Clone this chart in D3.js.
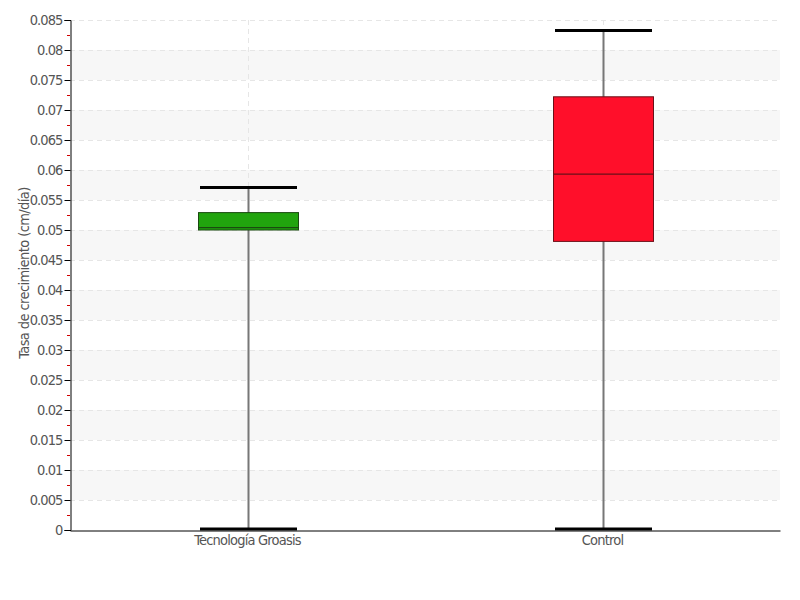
<!DOCTYPE html>
<html><head><meta charset="utf-8">
<script src="https://cdn.jsdelivr.net/npm/d3@7"></script>
<style>body{margin:0;background:#fff}svg{display:block}
text{font-family:'DejaVu Sans',sans-serif;font-stretch:condensed;}</style>
</head><body>
<svg id="c" width="800" height="600"></svg>
<script>
const categories = ["Tecnología Groasis", "Control"];
const whiskerLow = [0, 0];
const q1 = [0.0500, 0.0481];
const medians = [0.0504, 0.0593];
const q3 = [0.0529, 0.0722];
const whiskerHigh = [0.0569, 0.0831];
const colors = ["#21a40e", "#ff0f2a"];
const strokeColors = ["#1a4a10", "#6a1018"];
const yTicks = [0,0.005,0.01,0.015,0.02,0.025,0.03,0.035,0.04,0.045,0.05,0.055,0.06,0.065,0.07,0.075,0.08,0.085];
const yLabels = ["0","0.005","0.01","0.015","0.02","0.025","0.03","0.035","0.04","0.045","0.05","0.055","0.06","0.065","0.07","0.075","0.08","0.085"];
const yTitle = "Tasa de crecimiento (cm/día)";

const svg = d3.select("#c");
const L = 70, R = 780, T = 20, B = 530;
const y = d3.scaleLinear().domain([0, 0.085]).range([B, T]);
const x = d3.scaleBand().domain(categories).range([L, R]);

const g = svg.append("g");
for (let i = 0; i < yTicks.length - 1; i++) {
  if (i % 2 === 1) {
    g.append("rect").attr("x", L).attr("width", R - L)
      .attr("y", y(yTicks[i + 1])).attr("height", y(yTicks[i]) - y(yTicks[i + 1]))
      .attr("fill", "#f7f7f7");
  }
}
g.selectAll("line.hg").data(yTicks.slice(1)).join("line")
  .attr("x1", L).attr("x2", R).attr("y1", d => y(d) + 0.5).attr("y2", d => y(d) + 0.5)
  .attr("stroke", "#e6e6e6").attr("stroke-dasharray", "5,4");
g.selectAll("line.vg").data(categories).join("line")
  .attr("x1", d => Math.round(x(d) + x.bandwidth() / 2) + 0.5)
  .attr("x2", d => Math.round(x(d) + x.bandwidth() / 2) + 0.5)
  .attr("y1", T).attr("y2", B)
  .attr("stroke", "#e6e6e6").attr("stroke-dasharray", "5,4");

const yAxis = d3.axisLeft(y).tickValues(yTicks).tickFormat((d, i) => yLabels[i]).tickSizeOuter(0).tickSize(6).tickPadding(2);
const ya = svg.append("g").attr("transform", `translate(${L + 0.5},0)`).call(yAxis);
ya.attr("font-family", null).attr("font-size", null);
ya.select(".domain").attr("stroke", "#000");
ya.selectAll(".tick line").attr("stroke", "#000");
ya.selectAll(".tick text").attr("fill", "#555").style("font-size", "14.5px").attr("letter-spacing", "-0.9");
const minor = yTicks.slice(0, -1).map(d => d + 0.0025);
svg.append("g").selectAll("line").data(minor).join("line")
  .attr("x1", L - 3).attr("x2", L).attr("y1", d => y(d) + 0.5).attr("y2", d => y(d) + 0.5)
  .attr("stroke", "#d00000");

const xAxis = d3.axisBottom(x).tickSize(0).tickPadding(4);
const xa = svg.append("g").attr("transform", `translate(0,${B + 0.5})`).call(xAxis);
xa.attr("font-family", null).attr("font-size", null);
xa.select(".domain").attr("stroke", "#000");
xa.selectAll(".tick text").attr("fill", "#555").style("font-size", "14.5px").attr("letter-spacing", "-0.8");

const data = categories.map((c, i) => ({c, i}));
const bw = 100, cw = 97;
const bg = svg.append("g");
data.forEach(({c, i}) => {
  const cx = Math.round(x(c) + x.bandwidth() / 2) + 0.5;
  bg.append("line").attr("x1", cx).attr("x2", cx).attr("y1", y(whiskerLow[i])).attr("y2", y(whiskerHigh[i]))
    .attr("stroke", "#777").attr("stroke-width", 2);
  bg.append("rect").attr("x", cx - bw / 2).attr("width", bw)
    .attr("y", y(q3[i])).attr("height", y(q1[i]) - y(q3[i]))
    .attr("fill", colors[i]).attr("stroke", strokeColors[i]).attr("stroke-width", 1);
  bg.append("line").attr("x1", cx - bw / 2).attr("x2", cx + bw / 2).attr("y1", y(medians[i])).attr("y2", y(medians[i]))
    .attr("stroke", strokeColors[i]).attr("stroke-width", 1.2);
  [whiskerLow[i], whiskerHigh[i]].forEach(v => {
    bg.append("line").attr("x1", cx - cw / 2).attr("x2", cx + cw / 2).attr("y1", y(v) - 1).attr("y2", y(v) - 1)
      .attr("stroke", "#000").attr("stroke-width", 3);
  });
});

svg.append("text").attr("transform", `translate(29,${(T + B) / 2 - 2}) rotate(-90)`)
  .attr("text-anchor", "middle").attr("fill", "#555")
  .style("font-size", "14.5px").attr("letter-spacing", "-0.6").text(yTitle);
</script>
</body></html>
